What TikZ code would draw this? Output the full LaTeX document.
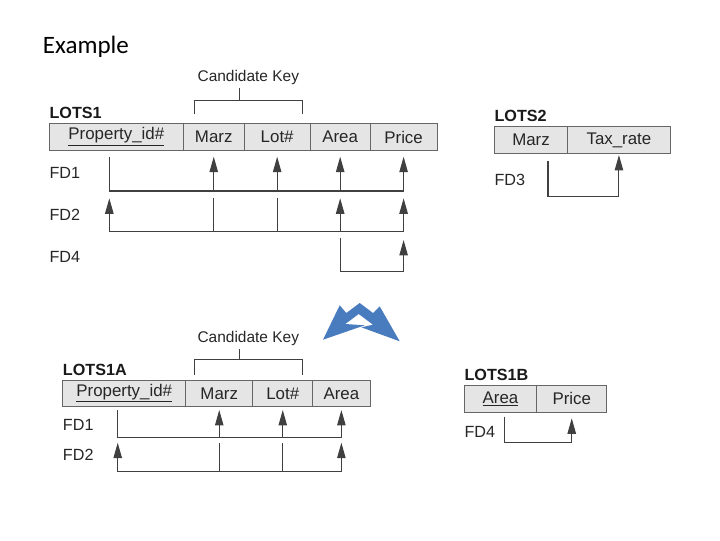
\documentclass[tikz,border=0pt]{standalone}
\usepackage{fontspec}
\setmainfont{Liberation Sans}
\newfontfamily\examplefont{Carlito}
\usetikzlibrary{arrows.meta,positioning,calc}
\definecolor{arrowblue}{RGB}{72,124,190}

\begin{document}
\begin{tikzpicture}[x=0.025cm,y=-0.025cm]
  \tikzstyle{cell}=[draw=black!60,fill=black!10,minimum height=0.68cm,inner sep=0pt,outer sep=0pt,text=black!85,font=\fontsize{12}{14}\selectfont]
  \tikzstyle{tname}=[inner sep=0pt,text=black!90,font=\fontsize{11.5}{13}\selectfont\bfseries]
  \tikzstyle{fdlab}=[anchor=west,inner sep=0pt,text=black!85,font=\fontsize{11.5}{13}\selectfont]
  \tikzstyle{keylab}=[inner sep=0pt,text=black!85,font=\fontsize{11}{13}\selectfont]
  \tikzstyle{dep}=[draw=black!75,line width=0.75pt]
  \tikzstyle{fd}=[dep,-{Triangle[length=11pt,width=6pt]}]
  \useasboundingbox (0,0) rectangle (720,540);
  \node [anchor=west,inner sep=0pt,font=\examplefont\fontsize{17.8}{20}\selectfont] (title) at (42.7,47) {Example} ;

  % LOTS1
  \node [cell,minimum width=3.35cm,anchor=west] (p1) at (49.3,137) {\underline{Property\_id\#}} ;
  \node [cell,minimum width=1.52cm,right=0pt of p1] (m1) {Marz} ;
  \node [cell,minimum width=1.65cm,right=0pt of m1] (l1) {Lot\#} ;
  \node [cell,minimum width=1.5cm,right=0pt of l1] (a1) {Area} ;
  \node [cell,minimum width=1.67cm,right=0pt of a1] (c1) {Price} ;
  \node [tname,above right=3.4pt and 0pt of p1.north west] (lots1) {LOTS1} ;
  \node [fdlab] (fd1a) at (p1.west |- 0,173) {FD1} ;
  \node [fdlab] (fd2a) at (p1.west |- 0,215) {FD2} ;
  \node [fdlab] (fd4a) at (p1.west |- 0,256.7) {FD4} ;
  \draw [dep] ($(m1.north west)+(11,-9)$) |- ($(l1.north east)+(-7.7,-22.6)$) -- ++(0,13.6) ;
  \draw [dep] ($(m1.north west)+(55.7,-22.6)$) -- ++(0,-12.7) coordinate (ks1) ;
  \node [keylab,above=2pt of ks1,xshift=6.6pt] (key1) {Candidate Key} ;
  \coordinate (pk1) at ($(p1)+(-7,0)$) ;
  \draw [dep] (pk1 |- 0,156.7) |- (c1 |- 0,191) ;
  \foreach \n in {m1,l1,a1,c1} \draw [fd] (\n |- 0,191) -- (\n |- 0,156.7) ;
  \foreach \n in {m1,l1} \draw [dep] (\n |- 0,198.3) -- (\n |- 0,231.7) ;
  \draw [dep] (pk1 |- 0,231.7) -- (c1 |- 0,231.7) ;
  \foreach \n in {pk1,a1,c1} \draw [fd] (\n |- 0,231.7) -- (\n |- 0,198.3) ;
  \draw [fd] (a1 |- 0,238.3) |- (c1 |- 0,271.7) -- (c1 |- 0,240) ;

  % LOTS2
  \node [cell,minimum width=1.835cm,minimum height=0.665cm,anchor=west] (m2) at (494.3,140) {Marz} ;
  \node [cell,minimum width=2.56cm,minimum height=0.665cm,right=0pt of m2] (tx2) {Tax\_rate} ;
  \node [tname,above right=3.6pt and 0pt of m2.north west] (lots2) {LOTS2} ;
  \node [fdlab] (fd3) at (m2.west |- 0,180) {FD3} ;
  \coordinate (mk2) at ($(m2)+(17,0)$) ;
  \draw [fd] (mk2 |- 0,161) |- (tx2 |- 0,196.7) -- (tx2 |- 0,155) ;

  % decomposition
  \fill [arrowblue] (359.7,303) -- (373,313) -- (379.7,306.3) -- (399.7,341.3) -- (361.3,327.3) -- (373,324.7) -- (358.7,314) -- (345.3,324) -- (364.7,325.3) -- (323,339.7) -- (339.7,305.3) -- (346.3,313) -- cycle ;

  % LOTS1A
  \node [cell,minimum width=3.075cm,minimum height=0.67cm,anchor=west] (p3) at (62.7,393.3) {\underline{Property\_id\#}} ;
  \node [cell,minimum width=1.675cm,minimum height=0.67cm,right=0pt of p3] (m3) {Marz} ;
  \node [cell,minimum width=1.5cm,minimum height=0.67cm,right=0pt of m3] (l3) {Lot\#} ;
  \node [cell,minimum width=1.43cm,minimum height=0.67cm,right=0pt of l3] (a3) {Area} ;
  \node [tname,above right=2.5pt and 0pt of p3.north west] (lots1a) {LOTS1A} ;
  \node [fdlab] (fd1b) at (p3.west |- 0,425) {FD1} ;
  \node [fdlab] (fd2b) at (p3.west |- 0,455) {FD2} ;
  \draw [dep] ($(m3.north west)+(8.6,-5)$) |- ($(l3.north east)+(-10.4,-20)$) -- ++(0,15) ;
  \draw [dep] ($(m3.north west)+(53.3,-20)$) -- ++(0,-10.7) coordinate (ks3) ;
  \node [keylab,above=2pt of ks3,xshift=6.6pt] (key3) {Candidate Key} ;
  \coordinate (pk3) at ($(p3)+(-6.5,0)$) ;
  \draw [dep] (pk3 |- 0,410) |- (a3 |- 0,437.7) ;
  \foreach \n in {m3,l3,a3} \draw [fd] (\n |- 0,437.7) -- (\n |- 0,410) ;
  \foreach \n in {m3,l3} \draw [dep] (\n |- 0,443) -- (\n |- 0,471.7) ;
  \draw [dep] (pk3 |- 0,471.7) -- (a3 |- 0,471.7) ;
  \foreach \n in {pk3,a3} \draw [fd] (\n |- 0,471.7) -- (\n |- 0,442.7) ;

  % LOTS1B
  \node [cell,minimum width=1.81cm,anchor=west] (a4) at (464.3,398.7) {\underline{Area}} ;
  \node [cell,minimum width=1.75cm,right=0pt of a4] (c4) {Price} ;
  \node [tname,above right=3pt and 0pt of a4.north west] (lots1b) {LOTS1B} ;
  \node [fdlab] (fd4b) at (a4.west |- 0,431.7) {FD4} ;
  \coordinate (ak4) at ($(a4)+(4,0)$) ;
  \draw [fd] (ak4 |- 0,416.7) |- (c4 |- 0,442.7) -- (c4 |- 0,418.3) ;
\end{tikzpicture}
\end{document}
